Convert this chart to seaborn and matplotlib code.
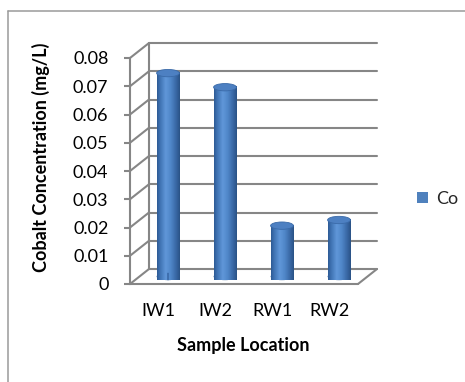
import numpy as np
import pandas as pd
import seaborn as sns
import matplotlib.pyplot as plt
from matplotlib.patches import Ellipse, Rectangle
from matplotlib.lines import Line2D
from matplotlib.transforms import ScaledTranslation
from matplotlib.colors import LinearSegmentedColormap

# --- data -------------------------------------------------------------
locations = ["IW1", "IW2", "RW1", "RW2"]
cobalt = [0.072, 0.067, 0.018, 0.020]
element = ["Co"] * len(locations)
y_ticks = [0.0, 0.01, 0.02, 0.03, 0.04, 0.05, 0.06, 0.07, 0.08]
y_tick_labels = ["0", "0.01", "0.02", "0.03", "0.04", "0.05", "0.06", "0.07", "0.08"]

df = pd.DataFrame({"Sample Location": locations, "conc": cobalt, "element": element})

sns.set_theme(style="white")
plt.rcParams["font.family"] = ["Lato", "DejaVu Sans"]

W, H, DPI = 465, 382, 100
fig = plt.figure(figsize=(W / DPI, H / DPI), dpi=DPI)
fig.patch.set_facecolor("white")

# front plane of the pseudo-3D box
ax = fig.add_axes([130 / W, 1 - 284 / H, 228 / W, 226 / H])
ax.set_xlim(-0.5, 3.5)
ax.set_ylim(0, 0.08)

GRID = "#868686"
LW = 1.5

# depth offsets (pixels): back wall and bar mid-plane
def shifted(dx_px, dy_px):
    return ax.transData + ScaledTranslation(dx_px / DPI, dy_px / DPI, fig.dpi_scale_trans)

back = shifted(19, 15)
mid = shifted(9.5, 7.5)

# bars
sns.barplot(data=df, x="Sample Location", y="conc", hue="element",
            palette=["#4F81BD"], width=0.4, ax=ax, legend=True, zorder=5)
bars = list(ax.patches)

# cylinder shading
cyl = LinearSegmentedColormap.from_list(
    "cyl", [(0.0, "#2d5b95"), (0.12, "#3e71b1"), (0.38, "#6097d9"),
            (0.6, "#5087c9"), (0.85, "#3866a3"), (1.0, "#2a5386")])
grad = np.linspace(0, 1, 64).reshape(1, -1)
ell_h = 0.0026
for p in bars:
    x0, w, h = p.get_x(), p.get_width(), p.get_height()
    p.set_transform(mid)
    p.set_clip_on(False)
    p.set_edgecolor("none")
    # rounded base
    base = Ellipse((x0 + w / 2, 0), w, ell_h, transform=mid,
                   facecolor="#34649f", edgecolor="none", zorder=4, clip_on=False)
    ax.add_patch(base)
    img = ax.imshow(grad, cmap=cyl, aspect="auto", extent=[x0, x0 + w, 0, h],
                    transform=mid, zorder=6, clip_on=False)
    img.set_clip_path(p)
    base_img = ax.imshow(grad, cmap=cyl, aspect="auto",
                         extent=[x0, x0 + w, -ell_h / 2, ell_h / 2],
                         transform=mid, zorder=5.5, clip_on=False)
    base_img.set_clip_path(base)
    top = Ellipse((x0 + w / 2, h), w, ell_h, transform=mid,
                  facecolor="#4d80c2", edgecolor="#3a6aa8", linewidth=0.6,
                  zorder=7, clip_on=False)
    ax.add_patch(top)
ax.set_xlim(-0.5, 3.5)
ax.set_ylim(0, 0.08)

# back wall gridlines and walls
for yv in y_ticks:
    ax.add_line(Line2D([-0.5, 3.5], [yv, yv], transform=back, color=GRID,
                       lw=LW, zorder=1, clip_on=False))
ax.add_line(Line2D([-0.5, -0.5], [0, 0.08], transform=back, color=GRID,
                   lw=LW, zorder=1, clip_on=False))

# side wall diagonals and floor edges, drawn in display space
fig.canvas.draw()
to_px = ax.transData.transform
bk = back.transform
for yv in y_ticks:
    a, b = to_px((-0.5, yv)), bk((-0.5, yv))
    fig.add_artist(Line2D([a[0] / W, b[0] / W], [a[1] / H, b[1] / H],
                          transform=fig.transFigure, color=GRID, lw=LW, zorder=1))
a, b = to_px((3.5, 0)), bk((3.5, 0))
fig.add_artist(Line2D([a[0] / W, b[0] / W], [a[1] / H, b[1] / H],
                      transform=fig.transFigure, color=GRID, lw=LW, zorder=1))
ax.add_line(Line2D([-0.5, 3.5], [0, 0], color=GRID, lw=LW, zorder=2, clip_on=False))

# axes styling
for s in ["top", "right", "bottom"]:
    ax.spines[s].set_visible(False)
ax.spines["left"].set_color(GRID)
ax.spines["left"].set_linewidth(LW)
ax.set_facecolor("none")
ax.set_yticks(y_ticks)
ax.set_yticklabels(y_tick_labels)
ax.tick_params(axis="y", left=True, length=4.5, width=LW, color=GRID,
               pad=11, labelsize=13, labelcolor="#000000")
ax.tick_params(axis="x", bottom=False, pad=8, labelsize=13, labelcolor="#000000")
ax.set_xlabel("Sample Location", fontsize=13, fontweight="bold", color="#000000")
ax.set_ylabel("Cobalt Concentration (mg/L)", fontsize=13, fontweight="bold", color="#000000")
ax.yaxis.set_label_coords(-0.35, 0.56)
ax.xaxis.set_label_coords(0.496, -0.235)

# legend
handles = [Rectangle((0, 0), 1, 1, facecolor="#4F81BD", edgecolor="none")]
ax.legend(handles, ["Co"], loc="center left", bbox_to_anchor=(417 / W, 1 - 199 / H),
          bbox_transform=fig.transFigure, frameon=False, fontsize=13,
          handlelength=0.62, handleheight=0.62, handletextpad=0.45,
          borderpad=0, borderaxespad=0)

# chart-area border (top and left edges visible)
fig.add_artist(Line2D([8 / W, 1.0], [1 - 10.5 / H, 1 - 10.5 / H],
                      transform=fig.transFigure, color="#9a9a9a", lw=1.1))
fig.add_artist(Line2D([8 / W, 8 / W], [0.0, 1 - 10.5 / H],
                      transform=fig.transFigure, color="#9a9a9a", lw=1.1))

fig.savefig("out.png", dpi=DPI, facecolor="white")
